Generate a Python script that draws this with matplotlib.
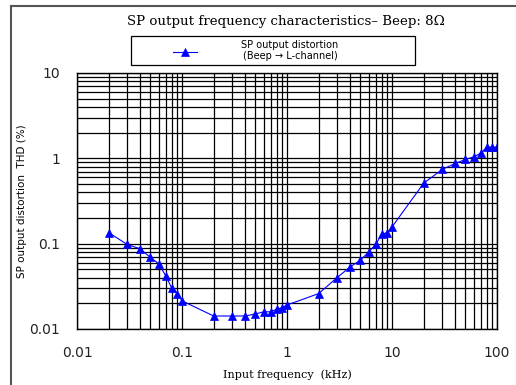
import matplotlib
matplotlib.use('Agg')
import matplotlib.pyplot as plt
from matplotlib.lines import Line2D
from matplotlib.patches import Rectangle
from matplotlib.ticker import LogLocator, FixedLocator, FixedFormatter, NullFormatter

# input frequency (kHz) and THD (%)
freq_khz = [0.02, 0.03, 0.04, 0.05, 0.06, 0.07, 0.08, 0.09, 0.1,
            0.2, 0.3, 0.4, 0.5, 0.6, 0.7, 0.8, 0.9, 1,
            2, 3, 4, 5, 6, 7, 8, 9, 10,
            20, 30, 40, 50, 60, 70, 80, 90, 100]
thd_pct = [0.135, 0.098, 0.087, 0.069, 0.058, 0.042, 0.030, 0.026, 0.0214,
           0.0142, 0.0142, 0.0142, 0.0150, 0.0159, 0.0159, 0.0171, 0.0178, 0.0191,
           0.026, 0.040, 0.0535, 0.064, 0.080, 0.098, 0.129, 0.135, 0.157,
           0.51, 0.74, 0.87, 0.97, 1.04, 1.15, 1.35, 1.35, 1.35]

x_ticks = [0.01, 0.1, 1, 10, 100]
x_labels = ['0.01', '0.1', '1', '10', '100']
y_ticks = [0.01, 0.1, 1, 10]
y_labels = ['0.01', '0.1', '1', '10']

W, H = 516, 385
fig = plt.figure(figsize=(W / 100, H / 100), dpi=100)
ax = fig.add_axes([77 / W, 1 - 329 / H, 420 / W, 256 / H])

ax.plot(freq_khz, thd_pct, color='#0000ff', lw=0.8, marker='^',
        markersize=5.5, markeredgewidth=0.5)

ax.set_xscale('log')
ax.set_yscale('log')
ax.set_xlim(0.01, 100)
ax.set_ylim(0.01, 10)

ax.xaxis.set_major_locator(FixedLocator(x_ticks))
ax.xaxis.set_major_formatter(FixedFormatter(x_labels))
ax.yaxis.set_major_locator(FixedLocator(y_ticks))
ax.yaxis.set_major_formatter(FixedFormatter(y_labels))
for axis in (ax.xaxis, ax.yaxis):
    axis.set_minor_locator(LogLocator(base=10, subs=range(2, 10)))
    axis.set_minor_formatter(NullFormatter())

ax.grid(which='both', color='black', lw=0.9)
ax.tick_params(which='both', length=0, labelsize=10, colors='#222222', pad=12)
for sp in ax.spines.values():
    sp.set_color('black')
    sp.set_linewidth(1.0)

ax.set_xlabel('Input frequency  (kHz)', family='DejaVu Serif', fontsize=8, labelpad=7)
ax.set_ylabel('SP output distortion  THD (%)', fontsize=7.5)
ax.yaxis.set_label_coords(-0.119, 0.5)

fig.text(286 / W, 1 - 22 / H, 'SP output frequency characteristics\u2013 Beep: 8\u03a9',
         family='DejaVu Serif', fontsize=9.6, ha='center', va='center')

# legend box, drawn by hand to match the wide frame
fig.add_artist(Rectangle((131 / W, 1 - 65 / H), 284 / W, 29 / H,
                         transform=fig.transFigure, fill=False,
                         edgecolor='black', lw=0.9))
fig.add_artist(Line2D([173 / W, 197 / W], [1 - 52 / H, 1 - 52 / H],
                      color='#0000ff', lw=0.8))
fig.add_artist(Line2D([185 / W], [1 - 52 / H], color='#0000ff', marker='^',
                      markersize=5.5, markeredgewidth=0.5))
fig.text(290 / W, 1 - 50.5 / H, 'SP output distortion\n(Beep \u2192 L-channel)',
         fontsize=7, ha='center', va='center', multialignment='center',
         linespacing=1.1)

# outer frame (left and top edges)
fig.add_artist(Line2D([11 / W, 11 / W], [0, 1 - 6 / H], color='#555555', lw=1.5))
fig.add_artist(Line2D([11 / W, 1], [1 - 6 / H, 1 - 6 / H], color='#555555', lw=1.5))

fig.savefig('out.png', dpi=100)
